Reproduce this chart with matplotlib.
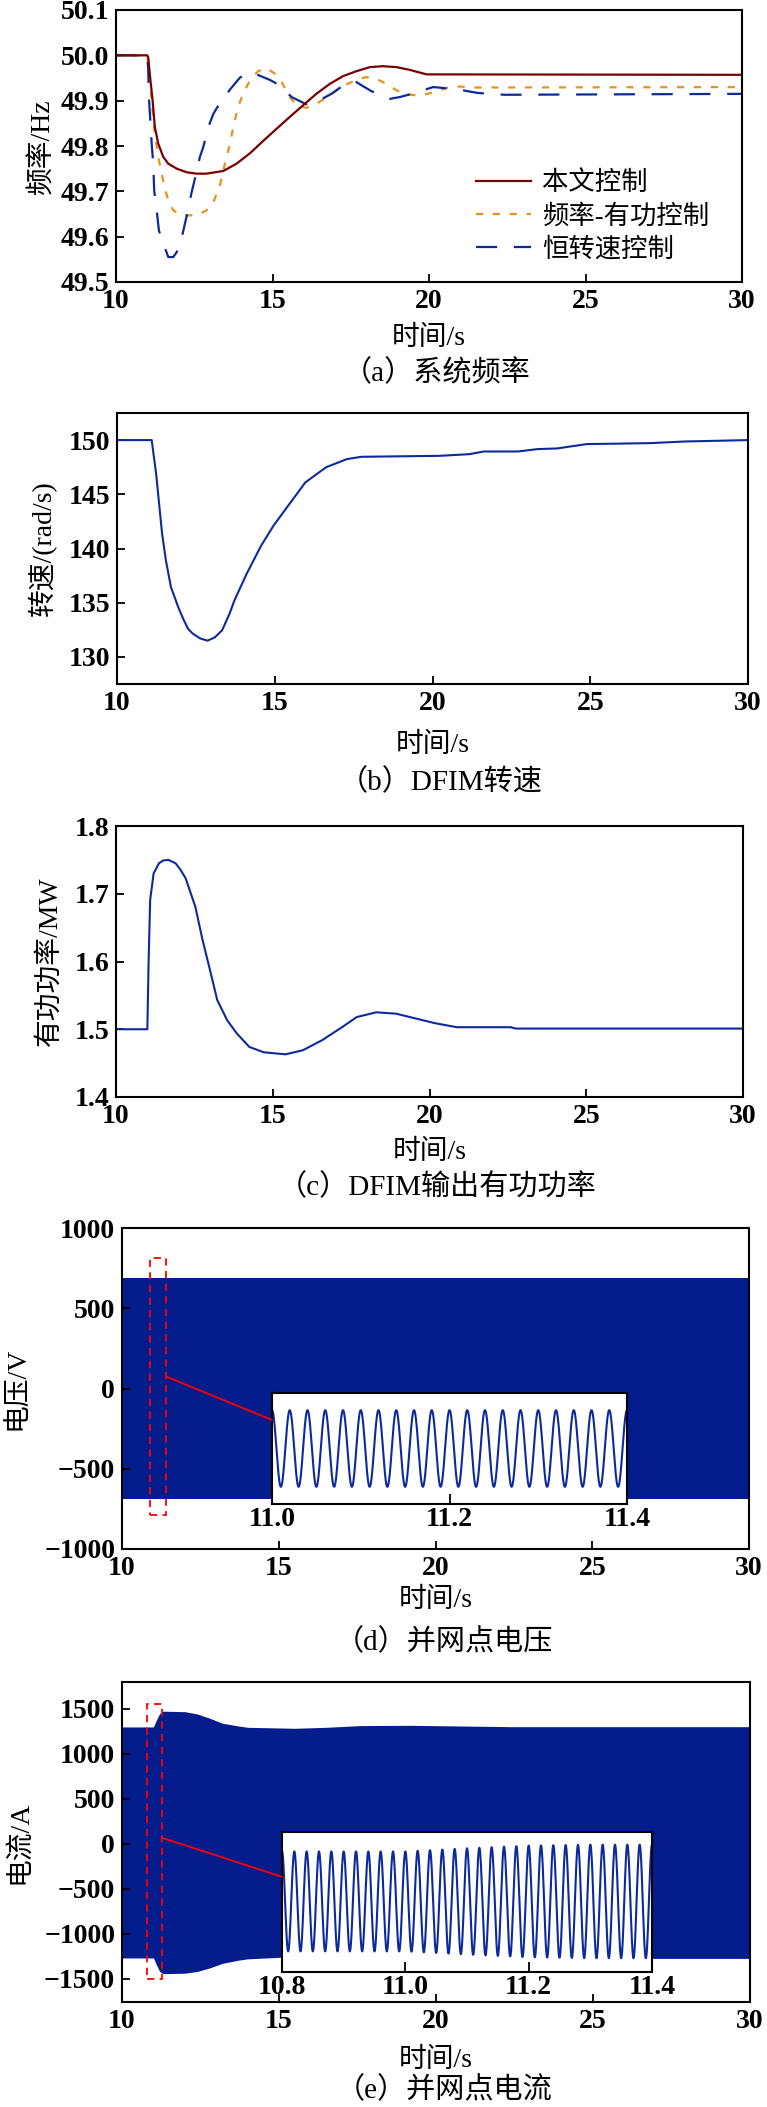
import numpy as np
import matplotlib
matplotlib.use("Agg")
import matplotlib.pyplot as plt
from matplotlib.patches import Rectangle, ConnectionPatch

plt.rcParams['font.family'] = ['Liberation Serif', 'Noto Sans CJK SC']
plt.rcParams['axes.unicode_minus'] = True

# ---------------- data ----------------
# (a) system frequency
t_prop = [10, 11.0, 11.03, 11.09, 11.17, 11.24, 11.35, 11.51, 11.67, 11.94, 12.26, 12.57, 12.89,
          13.43, 13.85, 14.28, 14.70, 15.13, 15.55, 15.98, 16.40, 16.83, 17.25, 17.68, 18.11,
          18.53, 18.96, 19.38, 19.92, 30]
f_prop = [50.0, 50.0, 49.995, 49.952, 49.90, 49.842, 49.805, 49.776, 49.761, 49.750, 49.742,
          49.739, 49.739, 49.745, 49.761, 49.784, 49.811, 49.838, 49.864, 49.890, 49.915, 49.937,
          49.954, 49.965, 49.974, 49.976, 49.974, 49.968, 49.958, 49.957]

t_fp = [10, 11.0, 11.09, 11.14, 11.24, 11.35, 11.46, 11.56, 11.67, 11.83, 12.09, 12.57, 12.89,
        13.11, 13.32, 13.48, 13.64, 13.77, 13.90, 14.06, 14.28, 14.54, 14.81, 15.07, 15.29, 15.55,
        15.77, 16.08, 16.40, 16.83, 17.25, 17.68, 18.00, 18.32, 18.64, 18.96, 19.28, 19.70, 20.06,
        20.75, 21.5, 30]
f_fp = [50.0, 50.0, 49.937, 49.90, 49.827, 49.776, 49.739, 49.706, 49.68, 49.658, 49.647, 49.647,
        49.658, 49.676, 49.713, 49.761, 49.805, 49.849, 49.886, 49.915, 49.945, 49.965, 49.972,
        49.960, 49.941, 49.908, 49.890, 49.884, 49.893, 49.912, 49.932, 49.946, 49.952, 49.948,
        49.937, 49.923, 49.914, 49.911, 49.917, 49.932, 49.929, 49.930]

t_cs = [10, 11.0, 11.03, 11.05, 11.09, 11.14, 11.19, 11.22, 11.30, 11.37, 11.44, 11.67, 11.83,
        11.94, 12.09, 12.25, 12.41, 12.57, 12.68, 12.79, 12.93, 13.11, 13.32, 13.66, 13.96, 14.22,
        14.38, 14.91, 15.23, 15.61, 16.08, 16.40, 16.88, 17.41, 17.68, 17.89, 18.16, 18.75, 19.07,
        19.55, 20.13, 20.45, 20.98, 21.56, 22.41, 30]
f_cs = [50.0, 50.0, 49.967, 49.908, 49.864, 49.805, 49.761, 49.702, 49.658, 49.614, 49.599,
        49.555, 49.555, 49.566, 49.595, 49.643, 49.696, 49.742, 49.776, 49.798, 49.838, 49.871,
        49.895, 49.926, 49.951, 49.961, 49.961, 49.946, 49.934, 49.908, 49.892, 49.897, 49.915,
        49.941, 49.941, 49.932, 49.921, 49.904, 49.908, 49.917, 49.930, 49.928, 49.924, 49.917,
        49.913, 49.915]

legend_labels = ['本文控制', '频率-有功控制', '恒转速控制']

# (b) DFIM speed
t_spd = [10, 11.1, 11.24, 11.43, 11.55, 11.71, 11.94, 12.1, 12.25, 12.4, 12.64, 12.87, 13.1,
         13.33, 13.57, 13.72, 14.11, 14.57, 14.96, 15.35, 15.97, 16.63, 17.29, 17.75, 20.23,
         21.16, 21.63, 22.71, 23.33, 23.95, 24.88, 26.9, 27.98, 30]
w_spd = [150.0, 150.0, 146.9, 141.35, 138.9, 136.44, 134.6, 133.5, 132.6, 132.15, 131.7, 131.5,
         131.8, 132.45, 134.0, 135.2, 137.67, 140.27, 142.1, 143.65, 146.1, 147.5, 148.25,
         148.46, 148.55, 148.7, 148.95, 148.95, 149.17, 149.23, 149.63, 149.72, 149.87, 150.0]

# (c) DFIM active power
t_pw = [10, 11.0, 11.04, 11.09, 11.2, 11.37, 11.5, 11.67, 11.9, 12.05, 12.22, 12.53, 12.76, 13.0,
        13.23, 13.55, 13.85, 14.25, 14.71, 15.41, 15.96, 16.58, 17.21, 17.68, 18.3, 18.93, 19.55,
        20.17, 20.87, 22.59, 22.75, 30]
p_pw = [1.5, 1.5, 1.60, 1.691, 1.730, 1.745, 1.749, 1.750, 1.745, 1.736, 1.723, 1.681, 1.632,
        1.587, 1.543, 1.513, 1.494, 1.474, 1.466, 1.463, 1.469, 1.484, 1.503, 1.518, 1.525,
        1.523, 1.516, 1.509, 1.503, 1.503, 1.501, 1.501]

# (d) PCC voltage envelope (V)
GRID_FREQ_HZ = 50.0
t_env_v = [10, 30]
v_upper = [690, 690]
v_lower = [-690, -690]

# (e) PCC current envelope (A)
t_env_i = [10, 11.0, 11.1, 11.2, 11.3, 12.0, 12.4, 12.8, 13.2, 13.7, 14.0, 15.5, 16.5, 17.6,
           19.2, 22.4, 30]
i_upper = [1300, 1300, 1380, 1450, 1475, 1470, 1444, 1396, 1341, 1311, 1296, 1285, 1296, 1315,
           1318, 1303, 1303]
i_lower = [-1270, -1270, -1350, -1420, -1445, -1440, -1420, -1380, -1330, -1295, -1280, -1255,
           -1265, -1280, -1285, -1275, -1275]

# ---------------- figure ----------------
W, H = 767, 2107
fig = plt.figure(figsize=(W / 100, H / 100), dpi=100)

C_RED = '#7a0000'
C_ORANGE = '#e8921e'
C_BLUE = '#0c2a9c'
C_FILL = '#051d8c'

TICK_FS = 20
LABEL_FS = 20
CAP_FS = 21


def px_axes(l, r, t, b):
    return fig.add_axes([l / W, 1 - b / H, (r - l) / W, (b - t) / H])


def style(ax, xticks, yticks, yfmt):
    for s in ax.spines.values():
        s.set_linewidth(1.5)
    ax.tick_params(direction='in', length=6, width=1.3, top=False, right=False,
                   labelsize=TICK_FS)
    ax.tick_params(axis='x', pad=5)
    ax.tick_params(axis='y', pad=5)
    ax.set_xlim(10, 30)
    ax.set_xticks(xticks)
    ax.set_xticklabels([str(v) for v in xticks], fontweight='bold')
    ax.set_yticks(yticks)
    ax.set_yticklabels([yfmt(v) for v in yticks], fontweight='bold')


def labels(ax_box, ylab, ylab_x, xlab_y, cap, cap_y):
    l, r, t, b = ax_box
    cx = (l + r) / 2
    fig.text(cx / W, 1 - xlab_y / H, '时间/s', ha='center', va='center', fontsize=LABEL_FS)
    fig.text((cx + 8) / W, 1 - cap_y / H, cap, ha='center', va='center', fontsize=CAP_FS)
    fig.text(ylab_x / W, 1 - ((t + b) / 2) / H, ylab, ha='center', va='center',
             rotation=90, fontsize=LABEL_FS)


xt = [10, 15, 20, 25, 30]

# (a)
box_a = (116, 742, 10, 282)
ax = px_axes(*box_a)
l2, = ax.plot(t_fp, f_fp, color=C_ORANGE, lw=1.6, linestyle=(0, (3.2, 4.4)))
l3, = ax.plot(t_cs, f_cs, color=C_BLUE, lw=1.6, linestyle=(0, (9.5, 7.5)))
l1, = ax.plot(t_prop, f_prop, color=C_RED, lw=1.6)
ax.set_ylim(49.5, 50.1)
style(ax, xt, [49.5, 49.6, 49.7, 49.8, 49.9, 50.0, 50.1], lambda v: f'{v:.1f}')
ax.legend([l1, l2, l3], legend_labels, loc='upper left', bbox_to_anchor=(0.575, 0.41),
          frameon=False, fontsize=19, handlelength=2.1, handletextpad=0.4,
          labelspacing=0.32, borderpad=0, borderaxespad=0)
labels(box_a, '频率/Hz', 42, 338, '（a）系统频率', 373)

# (b)
box_b = (117, 748, 413, 684)
ax = px_axes(*box_b)
ax.plot(t_spd, w_spd, color=C_BLUE, lw=1.5)
ax.set_ylim(127.5, 152.5)
style(ax, xt, [130, 135, 140, 145, 150], lambda v: f'{v:d}')
labels(box_b, '转速/(rad/s)', 42, 745, '（b）DFIM转速', 782)

# (c)
box_c = (116, 743, 826, 1097)
ax = px_axes(*box_c)
ax.plot(t_pw, p_pw, color=C_BLUE, lw=1.5)
ax.set_ylim(1.4, 1.8)
style(ax, xt, [1.4, 1.5, 1.6, 1.7, 1.8], lambda v: f'{v:.1f}')
labels(box_c, '有功功率/MW', 50, 1152, '（c）DFIM输出有功功率', 1187)


def wave(t0, t1, t_env, up, lo):
    t = np.linspace(t0, t1, 6000)
    u = np.interp(t, t_env, up)
    d = np.interp(t, t_env, lo)
    return t, (u + d) / 2 + (u - d) / 2 * np.cos(2 * np.pi * GRID_FREQ_HZ * t)


def inset(box, xlim, ylim, xticks, t_env, up, lo):
    ins = px_axes(*box)
    t, y = wave(xlim[0], xlim[1], t_env, up, lo)
    ins.plot(t, y, color=C_BLUE, lw=1.5)
    ins.set_xlim(*xlim)
    ins.set_ylim(*ylim)
    ins.set_yticks([])
    ins.set_xticks(xticks)
    ins.set_xticklabels([f'{v:.1f}' for v in xticks], fontweight='bold')
    ins.tick_params(direction='in', length=7, width=1.3, labelsize=TICK_FS, pad=2)
    for s in ins.spines.values():
        s.set_linewidth(1.5)
    return ins


# (d)
box_d = (122, 749, 1228, 1549)
ax = px_axes(*box_d)
ax.fill_between(t_env_v, v_lower, v_upper, color=C_FILL, lw=0)
ax.set_ylim(-1000, 1000)
style(ax, xt, [-1000, -500, 0, 500, 1000], lambda v: f'{v:d}'.replace('-', '\u2212'))
ax.add_patch(Rectangle((10.9, -790), 0.5, 1600, fill=False, edgecolor='red', lw=1.3,
                       linestyle=(0, (4, 3)), zorder=5))
ins = inset((272, 627, 1393, 1504), (11.0, 11.4), (-1000, 1000), [11.0, 11.2, 11.4],
            t_env_v, v_upper, v_lower)
fig.add_artist(ConnectionPatch(xyA=(11.4, 75), coordsA=ax.transData, xyB=(0, 0.757),
                               coordsB=ins.transAxes, color='red', lw=1.3))
labels(box_d, '电压/V', 17, 1600, '（d）并网点电压', 1642)

# (e)
box_e = (122, 750, 1682, 2002)
ax = px_axes(*box_e)
ax.fill_between(t_env_i, i_lower, i_upper, color=C_FILL, lw=0)
ax.set_ylim(-1760, 1800)
style(ax, xt, [-1500, -1000, -500, 0, 500, 1000, 1500], lambda v: f'{v:d}'.replace('-', '\u2212'))
ax.add_patch(Rectangle((10.8, -1500), 0.47, 3060, fill=False, edgecolor='red', lw=1.3,
                       linestyle=(0, (4, 3)), zorder=5))
ins = inset((282, 652, 1832, 1972), (10.8, 11.4), (-1800, 1800), [10.8, 11.0, 11.2, 11.4],
            t_env_i, i_upper, i_lower)
fig.add_artist(ConnectionPatch(xyA=(11.29, 65), coordsA=ax.transData, xyB=(0, 0.68),
                               coordsB=ins.transAxes, color='red', lw=1.3))
labels(box_e, '电流/A', 19, 2060, '（e）并网点电流', 2090)

fig.savefig('out.png', dpi=100)
